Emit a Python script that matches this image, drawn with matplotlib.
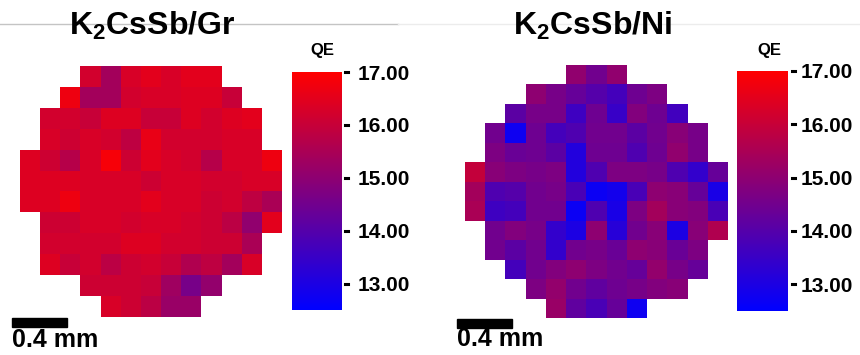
import numpy as np
import matplotlib
matplotlib.use("Agg")
import matplotlib.pyplot as plt
from matplotlib.colors import LinearSegmentedColormap
from matplotlib.patches import Rectangle
from matplotlib.lines import Line2D

plt.rcParams["font.family"] = ["Liberation Sans", "DejaVu Sans"]
plt.rcParams["font.weight"] = "bold"
plt.rcParams["mathtext.fontset"] = "custom"
plt.rcParams["mathtext.rm"] = "Liberation Sans:bold"
plt.rcParams["mathtext.bf"] = "Liberation Sans:bold"

# QE maps, stored row by row: first filled column of each row + values
gr_start = [3, 2, 1, 1, 0, 0, 0, 1, 1, 1, 3, 4]
gr_qe = [
    [16.2, 15.4, 16.3, 16.5, 16.3, 16.5, 16.5],
    [16.7, 15.4, 15.4, 16.2, 16.3, 16.3, 16.4, 16.4, 16.0],
    [16.2, 16.2, 16.0, 16.4, 16.4, 16.0, 16.0, 16.4, 16.2, 16.4, 16.5],
    [16.3, 16.1, 16.3, 16.2, 15.85, 16.6, 16.2, 16.2, 16.2, 16.3, 16.3],
    [16.4, 16.1, 15.7, 16.3, 16.85, 16.1, 16.5, 16.3, 16.2, 15.7, 16.3, 16.3, 16.7],
    [16.4, 16.4, 16.4, 16.3, 16.3, 16.3, 16.1, 16.3, 16.3, 16.2, 16.2, 16.3, 16.3],
    [16.4, 16.4, 16.7, 16.3, 16.3, 16.3, 16.5, 16.3, 16.3, 16.1, 16.2, 15.85, 15.5],
    [16.1, 16.1, 16.3, 16.3, 16.2, 16.3, 16.3, 16.2, 16.1, 15.8, 15.05, 16.5],
    [16.2, 16.2, 16.2, 16.2, 16.4, 16.4, 16.2, 16.2, 16.1, 16.1, 15.5],
    [16.4, 16.0, 16.2, 15.8, 16.1, 16.2, 16.0, 15.6, 15.85, 15.4, 16.3],
    [16.1, 16.1, 16.1, 16.0, 15.3, 14.6, 15.1],
    [16.3, 16.1, 15.8, 15.2, 15.2],
]

ni_start = [5, 3, 2, 1, 1, 0, 0, 0, 1, 1, 2, 3, 4]
ni_qe = [
    [15.05, 14.5, 15.05],
    [15.0, 14.6, 14.3, 14.0, 13.7, 14.45, 14.7],
    [14.1, 14.6, 14.6, 13.6, 14.45, 13.5, 14.8, 14.45, 13.65],
    [14.5, 12.75, 14.45, 13.7, 13.9, 14.5, 14.5, 14.1, 14.5, 14.9, 14.6],
    [14.7, 14.35, 14.45, 14.1, 13.1, 14.45, 14.45, 13.9, 14.45, 15.05, 14.6],
    [15.95, 14.9, 14.7, 14.6, 14.7, 13.1, 13.9, 14.7, 14.7, 14.6, 13.9, 13.4, 14.3],
    [15.4, 13.9, 14.0, 14.5, 14.6, 13.8, 12.7, 12.85, 13.8, 15.0, 14.9, 14.3, 12.95],
    [15.5, 13.6, 13.7, 14.5, 14.5, 12.7, 13.9, 12.95, 14.7, 15.4, 14.9, 14.8, 13.8],
    [14.5, 14.8, 14.6, 13.4, 13.0, 15.0, 13.2, 14.5, 14.9, 13.0, 14.9, 15.6],
    [14.5, 14.1, 14.5, 13.4, 14.5, 14.6, 14.35, 15.0, 14.9, 14.35, 14.7],
    [13.7, 14.5, 14.8, 15.0, 14.7, 14.5, 14.3, 15.1, 14.6, 14.3],
    [14.7, 15.1, 14.5, 14.2, 14.45, 14.6, 14.8, 14.9],
    [15.2, 14.2, 13.8, 14.3, 12.75],
]

titles = [r"K$_{\mathbf{2}}$CsSb/Gr", r"K$_{\mathbf{2}}$CsSb/Ni"]
cbar_ticks = [13, 14, 15, 16, 17]
qe_min, qe_max = 12.5, 17.0
scale_mm = 0.4
mm_per_cell = 0.147

W, H = 860, 355


def grid(starts, rows, ncols=13):
    arr = np.full((len(rows), ncols), np.nan)
    for i, (s, r) in enumerate(zip(starts, rows)):
        arr[i, s:s + len(r)] = r
    return arr


def px_axes(fig, x0, y0, x1, y1):
    # pixel box (top-left origin) -> figure axes
    return fig.add_axes([x0 / W, 1 - y1 / H, (x1 - x0) / W, (y1 - y0) / H])


cmap = LinearSegmentedColormap.from_list("qe", ["#0000ff", "#ff0000"])

fig = plt.figure(figsize=(W / 100, H / 100), dpi=100)

# faint line at the top
fig.add_artist(Line2D([0, 398 / W], [1 - 24 / H] * 2, color="#c4c4c4", lw=1))
fig.add_artist(Line2D([398 / W, 1], [1 - 24 / H] * 2, color="#ececec", lw=1))

panels = [
    dict(data=grid(gr_start, gr_qe), box=(20, 66, 282, 317), cbox=(292, 72, 342, 310),
         title_x=152, qe_x=322, pad=11, tick_x=(1.06, 1.12)),
    dict(data=grid(ni_start, ni_qe), box=(465, 65, 728, 318), cbox=(737, 71, 788, 311),
         title_x=593, qe_x=769, pad=9, tick_x=(1.08, 1.14)),
]

for p, title in zip(panels, titles):
    data = p["data"]
    nr, nc = data.shape
    ax = px_axes(fig, *p["box"])
    im = ax.imshow(np.ma.masked_invalid(data), cmap=cmap, vmin=qe_min, vmax=qe_max,
                   interpolation="nearest", aspect="auto", extent=[0, nc, nr, 0])
    ax.set_axis_off()

    # scale bar
    bar_len = scale_mm / mm_per_cell
    ax.add_patch(Rectangle((-0.4, nr + 0.05), bar_len, 0.45, color="black", clip_on=False))
    ax.text(-0.4, nr + 1.45, f"{scale_mm} mm", fontsize=18, fontweight="bold",
            ha="left", va="baseline", clip_on=False)

    cax = px_axes(fig, *p["cbox"])
    cb = fig.colorbar(im, cax=cax, ticks=cbar_ticks, format="%.2f")
    cb.outline.set_visible(False)
    cax.tick_params(length=0, pad=p["pad"], labelsize=15)
    for lab in cax.get_yticklabels():
        lab.set_fontweight("bold")
    trans = cax.get_yaxis_transform()
    for t in cbar_ticks:
        cax.add_line(Line2D(list(p["tick_x"]), [t, t], transform=trans, color="black",
                            lw=2.2, clip_on=False))

    fig.text(p["title_x"] / W, 1 - 35 / H, title, fontsize=23, fontweight="bold",
             ha="center", va="baseline")
    fig.text(p["qe_x"] / W, 1 - 55 / H, "QE", fontsize=12, fontweight="bold",
             ha="center", va="baseline")

fig.savefig("out.png", dpi=100)
